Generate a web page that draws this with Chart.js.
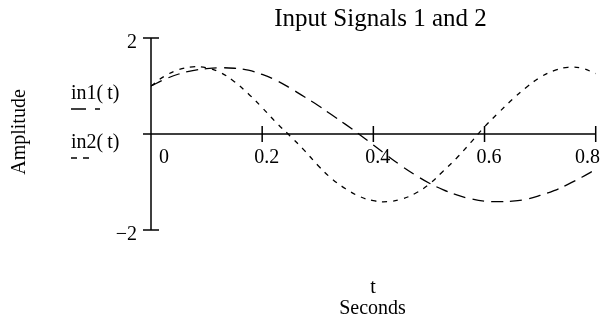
<!DOCTYPE html>
<html>
<head>
<meta charset="utf-8">
<script src="https://cdn.jsdelivr.net/npm/chart.js@4/dist/chart.umd.min.js"></script>
<style>
  html, body { margin: 0; padding: 0; background: #fff; }
  #wrap { width: 600px; height: 320px; }
</style>
</head>
<body>
<div id="wrap"><canvas id="c" width="600" height="320"></canvas></div>
<script>
// Sample times (seconds) and the two input signals
const tValues = [0, 0.025, 0.05, 0.075, 0.1, 0.125, 0.15, 0.175, 0.2, 0.225, 0.25, 0.275, 0.3,
  0.325, 0.35, 0.375, 0.4, 0.425, 0.45, 0.475, 0.5, 0.525, 0.55, 0.575, 0.6, 0.625, 0.65,
  0.675, 0.7, 0.725, 0.75, 0.775, 0.8];
const in1Values = [1.00, 1.14, 1.25, 1.32, 1.36, 1.38, 1.37, 1.33, 1.24, 1.12, 0.96, 0.78, 0.60,
  0.40, 0.20, -0.01, -0.23, -0.45, -0.66, -0.85, -1.02, -1.16, -1.27, -1.35, -1.40, -1.41, -1.40,
  -1.36, -1.28, -1.18, -1.05, -0.90, -0.74];
const in2Values = [1.00, 1.21, 1.34, 1.40, 1.38, 1.28, 1.09, 0.84, 0.55, 0.24, -0.04, -0.33, -0.65,
  -0.93, -1.14, -1.30, -1.39, -1.41, -1.36, -1.24, -1.05, -0.78, -0.50, -0.18, 0.15, 0.44, 0.72,
  0.97, 1.18, 1.32, 1.39, 1.37, 1.26];

// Axis ticks and their labels
const xTicks = [0, 0.2, 0.4, 0.6, 0.8];
const xTickLabels = ['0', '0.2', '0.4', '0.6', '0.8'];
const yTicks = [2, -2];
const yTickLabels = ['2', '\u22122'];
const seriesNames = ['in1(t)', 'in2(t)'];
const titleText = 'Input Signals 1 and 2';
const yAxisTitle = 'Amplitude';
const xAxisTitle = ['t', 'Seconds'];

const SERIF = '"Liberation Serif", "Times New Roman", serif';
const DASH1 = [12, 7];
const DASH2 = [5, 6];

function toPoints(vals) {
  return tValues.map((t, i) => ({ x: t, y: vals[i] }));
}

// Function-style name: a little space after the opening parenthesis
function drawFuncName(ctx, name, x, y) {
  const k = name.indexOf('(');
  const head = name.slice(0, k + 1);
  const tail = name.slice(k + 1);
  ctx.fillText(head, x, y);
  ctx.fillText(tail, x + ctx.measureText(head).width + 4, y);
}

// Draws the crossing axes, tick marks, labels, legend and titles
const mathAxes = {
  id: 'mathAxes',
  beforeDatasetsDraw(chart) {
    const ctx = chart.ctx;
    const xs = chart.scales.x, ys = chart.scales.y;
    const x0 = xs.getPixelForValue(0);
    const y0 = ys.getPixelForValue(0);
    ctx.save();
    ctx.strokeStyle = '#000';
    ctx.lineWidth = 1.5;
    ctx.beginPath();
    // vertical axis
    ctx.moveTo(x0, ys.getPixelForValue(yTicks[0]));
    ctx.lineTo(x0, ys.getPixelForValue(yTicks[1]));
    yTicks.forEach(v => {
      const p = ys.getPixelForValue(v);
      ctx.moveTo(x0 - 8, p);
      ctx.lineTo(x0 + 8, p);
    });
    // horizontal axis through zero
    ctx.moveTo(x0 - 8, y0);
    ctx.lineTo(xs.getPixelForValue(xTicks[xTicks.length - 1]), y0);
    xTicks.forEach(v => {
      if (v === 0) return;
      const p = xs.getPixelForValue(v);
      ctx.moveTo(p, y0 - 8);
      ctx.lineTo(p, y0 + 8);
    });
    ctx.stroke();
    ctx.restore();
  },
  afterDraw(chart) {
    const ctx = chart.ctx;
    const xs = chart.scales.x, ys = chart.scales.y;
    const x0 = xs.getPixelForValue(0);
    const y0 = ys.getPixelForValue(0);
    const W = chart.width;
    ctx.save();
    ctx.fillStyle = '#000';
    ctx.textBaseline = 'alphabetic';

    // tick labels
    ctx.font = '20px ' + SERIF;
    ctx.textAlign = 'left';
    xTicks.forEach((v, i) => {
      const txt = xTickLabels[i];
      const w = ctx.measureText(txt).width;
      let left = xs.getPixelForValue(v) + 4.5 - w / 2;
      left = Math.max(left, x0 + 8);
      left = Math.min(left, W - w);
      ctx.fillText(txt, left, y0 + 29);
    });
    ctx.textAlign = 'right';
    yTicks.forEach((v, i) => {
      ctx.fillText(yTickLabels[i], x0 - 14, ys.getPixelForValue(v) + 10);
    });

    // legend
    ctx.textAlign = 'left';
    drawFuncName(ctx, seriesNames[0], 71, 99);
    drawFuncName(ctx, seriesNames[1], 71, 148);
    ctx.strokeStyle = '#000';
    ctx.lineWidth = 1.3;
    ctx.beginPath();
    ctx.moveTo(71, 109); ctx.lineTo(86, 109);
    ctx.moveTo(95, 109); ctx.lineTo(100, 109);
    ctx.moveTo(71, 158); ctx.lineTo(77, 158);
    ctx.moveTo(83, 158); ctx.lineTo(89, 158);
    ctx.stroke();

    // axis titles
    ctx.textAlign = 'center';
    ctx.fillText(xAxisTitle[0], 373, 293);
    ctx.fillText(xAxisTitle[1], 372.5, 314);
    ctx.save();
    ctx.translate(25, 132);
    ctx.rotate(-Math.PI / 2);
    ctx.fillText(yAxisTitle, 0, 0);
    ctx.restore();

    // chart title
    ctx.font = '25px ' + SERIF;
    ctx.fillText(titleText, 380.5, 26);
    ctx.restore();
  }
};

new Chart(document.getElementById('c'), {
  type: 'line',
  data: {
    datasets: [
      {
        label: seriesNames[0],
        data: toPoints(in1Values),
        borderColor: '#000',
        borderWidth: 1.3,
        borderDash: DASH1,
        pointRadius: 0,
        tension: 0.4,
        fill: false
      },
      {
        label: seriesNames[1],
        data: toPoints(in2Values),
        borderColor: '#000',
        borderWidth: 1.3,
        borderDash: DASH2,
        pointRadius: 0,
        tension: 0.4,
        fill: false
      }
    ]
  },
  options: {
    responsive: false,
    animation: false,
    devicePixelRatio: 1,
    layout: { padding: { left: 151, right: 4.3, top: 38, bottom: 90 } },
    scales: {
      x: { type: 'linear', min: 0, max: 0.8, display: false },
      y: { type: 'linear', min: -2, max: 2, display: false }
    },
    plugins: {
      legend: { display: false },
      tooltip: { enabled: false },
      title: { display: false }
    }
  },
  plugins: [mathAxes]
});
</script>
</body>
</html>
